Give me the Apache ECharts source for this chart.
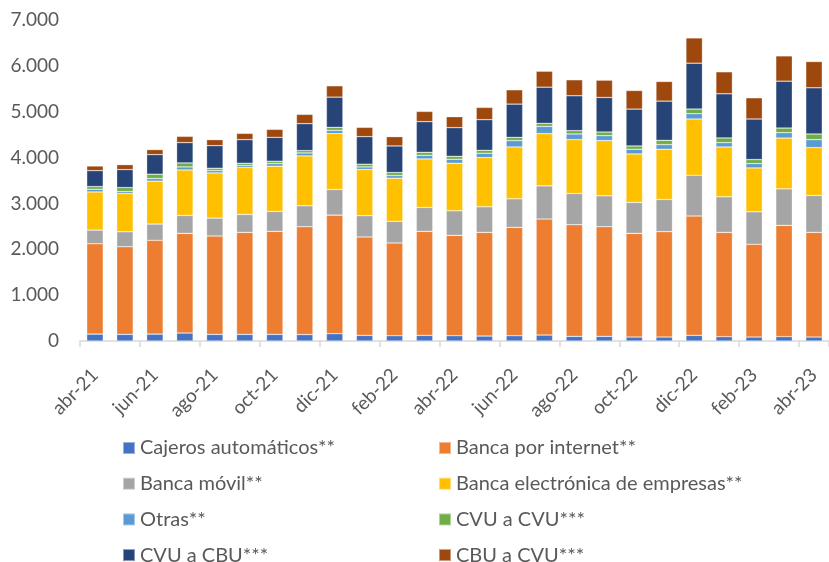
<!DOCTYPE html>
<html lang="es">
<head>
    <meta charset="UTF-8">
    <title>Transferencias por canal</title>
    <script src="https://cdn.jsdelivr.net/npm/echarts@6/dist/echarts.min.js"></script>
    <style>
        html, body { margin: 0; padding: 0; background: #fff; }
    </style>
</head>
<body>
<div id="main" style="width:829px;height:562px;"></div>
<script type="text/javascript">
    // meses
    var meses = ['abr-21','may-21','jun-21','jul-21','ago-21','sep-21','oct-21','nov-21','dic-21',
        'ene-22','feb-22','mar-22','abr-22','may-22','jun-22','jul-22','ago-22','sep-22','oct-22','nov-22','dic-22',
        'ene-23','feb-23','mar-23','abr-23'];

    var cajeros = [150,145,150,174,145,145,145,140,159,123,115,123,115,108,115,130,101,101,87,87,123,94,87,94,87];
    var bancaInternet = [1970,1910,2046,2174,2144,2224,2246,2352,2587,2145,2022,2268,2189,2261,2363,2529,2435,2391,2261,2297,2602,2275,2022,2428,2282];
    var bancaMovil = [298,327,354,391,391,391,435,457,558,464,472,522,536,558,623,724,681,674,674,703,891,776,709,796,805];
    var bancaEmpresas = [832,833,935,991,985,1022,985,1087,1218,1007,941,1057,1036,1073,1130,1139,1174,1204,1057,1094,1225,1086,956,1108,1043];
    var otras = [59,44,58,66,52,44,59,65,72,57,59,80,87,94,139,158,123,108,102,102,116,95,96,117,174];
    var cvuCvu = [59,87,94,87,50,50,50,51,65,59,65,65,65,65,71,66,73,79,72,93,101,102,87,101,123];
    var cvuCbu = [347,391,428,443,493,515,521,587,659,601,579,668,624,667,725,789,761,754,804,855,1000,963,884,1022,1008];
    var cbuCvu = [101,109,109,137,131,137,174,203,247,203,203,224,239,268,312,348,348,377,406,428,551,479,463,551,572];

    var nombres = ['Cajeros automáticos**','Banca por internet**','Banca móvil**','Banca electrónica de empresas**',
        'Otras**','CVU a CVU***','CVU a CBU***','CBU a CVU***'];
    var valores = [cajeros, bancaInternet, bancaMovil, bancaEmpresas, otras, cvuCvu, cvuCbu, cbuCvu];
    var colores = ['#4472C4','#ED7D31','#A5A5A5','#FFC000','#5B9BD5','#70AD47','#264478','#9E480E'];

    var fuente = 'Lato, "Open Sans", sans-serif';
    var gris = '#595959';

    var series = [];
    var leyendas = [];
    for (var i = 0; i < nombres.length; i++) {
        series.push({
            name: nombres[i],
            type: 'bar',
            stack: 'total',
            barWidth: '55%',
            itemStyle: { color: colores[i], borderColor: 'rgba(255,255,255,0.45)', borderWidth: 0.6 },
            data: valores[i]
        });
        // leyenda en 2 columnas, una por item
        leyendas.push({
            left: (i % 2 === 0) ? 122 : 438,
            top: 437 + Math.floor(i / 2) * 35.7,
            padding: 0,
            icon: 'rect',
            itemWidth: 12,
            itemHeight: 12,
            textStyle: { fontFamily: fuente, fontSize: 20, color: gris, lineHeight: 22 },
            data: [nombres[i]]
        });
    }

    var myChart = echarts.init(document.getElementById('main'), null, { renderer: 'canvas' });
    myChart.setOption({
        animation: false,
        backgroundColor: '#fff',
        grid: { left: 80, top: 20, width: 760, height: 321, containLabel: false },
        legend: leyendas,
        xAxis: {
            type: 'category',
            data: meses,
            axisLine: { lineStyle: { color: '#d9d9d9', width: 1.5 } },
            axisTick: { show: true, interval: 1, length: 6, lineStyle: { color: '#d9d9d9', width: 1.5 } },
            axisLabel: { interval: 1, rotate: 45, margin: 31, fontFamily: fuente, fontSize: 19, color: gris }
        },
        yAxis: {
            type: 'value',
            min: 0,
            max: 7000,
            interval: 1000,
            splitLine: { show: false },
            axisLine: { show: false },
            axisTick: { show: false },
            axisLabel: {
                margin: 21,
                fontFamily: fuente,
                fontSize: 19,
                color: gris,
                formatter: function (v) { return String(v).replace(/\B(?=(\d{3})+(?!\d))/g, '.'); }
            }
        },
        series: series
    });
</script>
</body>
</html>
